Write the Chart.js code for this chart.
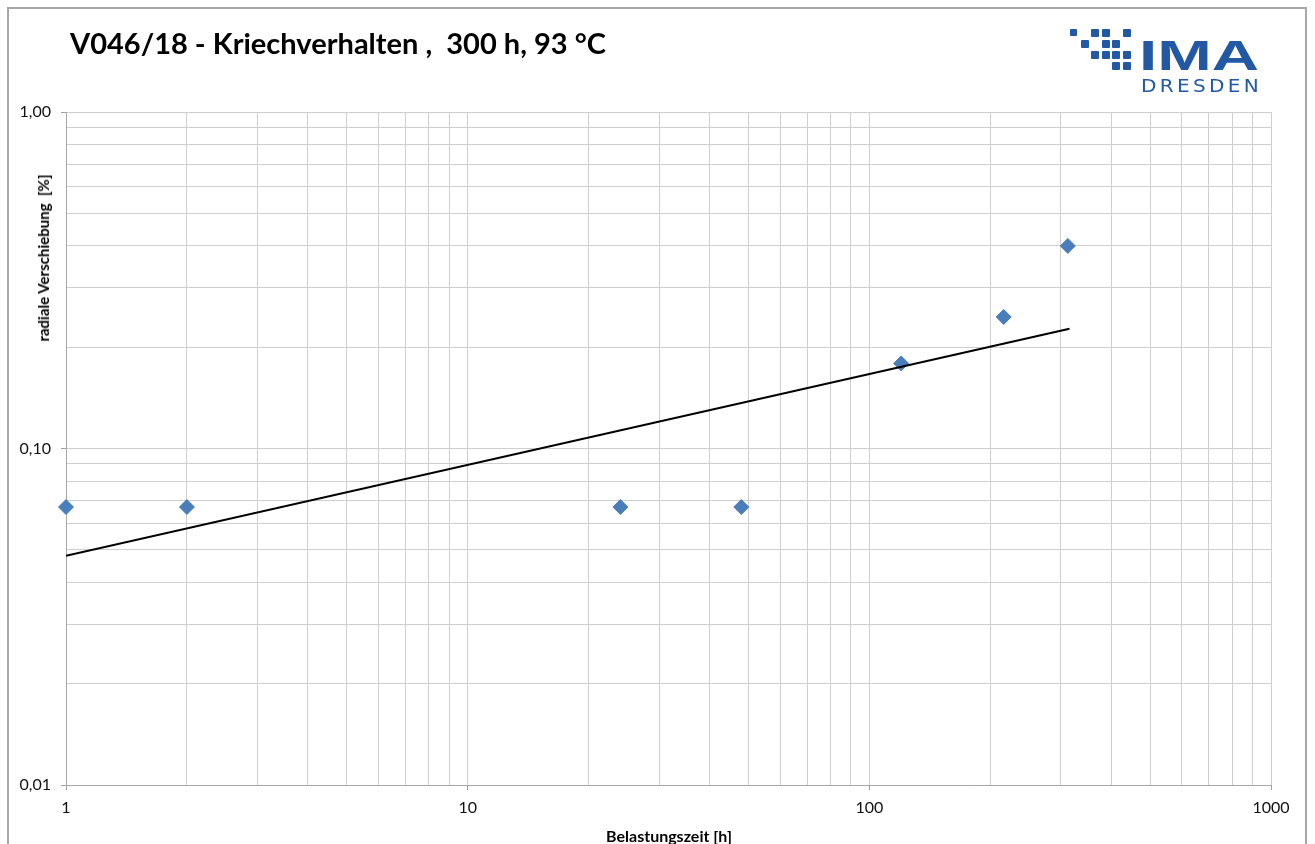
<!DOCTYPE html>
<html>
<head>
<meta charset="utf-8">
<script src="https://cdn.jsdelivr.net/npm/chart.js@4.4.1/dist/chart.umd.min.js"></script>
<style>
    body { margin: 0; background: #fff; }
    #wrap { position: relative; width: 1315px; height: 844px; overflow: hidden; font-family: Lato, "Open Sans", sans-serif; }
    #frame { position: absolute; left: 7px; top: 7px; width: 1300px; height: 900px; border: 2px solid #a8a8a8; box-sizing: border-box; }
    #chart { position: absolute; left: 0; top: 0; }
    .txt { position: absolute; white-space: nowrap; transform-origin: 0 50%; color: #000; }
    #title { left: 70px; top: 24px; font-size: 29px; font-weight: 700; line-height: 38px; }
    #ytitle { left: 43px; top: 258px; font-size: 15px; font-weight: 700; transform: translate(-50%, -50%) rotate(-90deg); transform-origin: 50% 50%; }
    #xtitle { left: 669px; top: 835px; font-size: 16px; font-weight: 700; transform: translate(-50%, -50%); transform-origin: 50% 50%; }
    .sq { position: absolute; width: 8px; height: 8px; background: #2358a5; border-radius: 1px; }
    #ima { left: 1139px; top: 33px; font-family: "Liberation Sans", Arial, sans-serif; font-size: 43px; font-weight: 700; color: #2358a5; line-height: 44px; }
    #dresden { left: 1141px; top: 76px; font-family: "DejaVu Sans", sans-serif; font-size: 18px; color: #2358a5; line-height: 20px; letter-spacing: 3px; }
</style>
</head>
<body>
<div id="wrap">
    <div id="frame"></div>
    <canvas id="chart" width="1315" height="844"></canvas>
    <div class="txt" id="title">V046/18 - Kriechverhalten ,&nbsp; 300 h, 93 °C</div>
    <div class="txt" id="ytitle">radiale Verschiebung&nbsp; [%]</div>
    <div class="txt" id="xtitle">Belastungszeit [h]</div>
    <div id="logo"></div>
    <div class="txt" id="ima">IMA</div>
    <div class="txt" id="dresden">DRESDEN</div>
</div>
<script>
const belastungszeit = [1, 2, 24, 48, 120, 216, 312];
const verschiebung = [0.067, 0.067, 0.067, 0.067, 0.179, 0.246, 0.40];

// Trendlinie (Potenz), Endpunkte
const trendZeit = [1, 315];
const trendWert = [0.048, 0.227];

// Achsenteilung
const xTicks = [1, 2, 3, 4, 5, 6, 7, 8, 9, 10, 20, 30, 40, 50, 60, 70, 80, 90,
    100, 200, 300, 400, 500, 600, 700, 800, 900, 1000];
const xLabels = { 1: "1", 10: "10", 100: "100", 1000: "1000" };
const yTicks = [0.01, 0.02, 0.03, 0.04, 0.05, 0.06, 0.07, 0.08, 0.09,
    0.1, 0.2, 0.3, 0.4, 0.5, 0.6, 0.7, 0.8, 0.9, 1];
const yLabels = { 0.01: "0,01", 0.1: "0,10", 1: "1,00" };

// Logo-Quadrate (Spalte, Zeile)
const logoCells = [[0, 0], [2, 0], [3, 0], [5, 0], [1, 1], [3, 1], [4, 1],
    [2, 2], [3, 2], [4, 2], [5, 2], [4, 3], [5, 3]];

const logo = document.getElementById("logo");
logoCells.forEach(([c, r]) => {
    const d = document.createElement("div");
    d.className = "sq";
    d.style.left = (1070 + c * 10.6) + "px";
    d.style.top = (29 + r * 11) + "px";
    if (c === 0) { d.style.width = "7px"; d.style.height = "7px"; }
    logo.appendChild(d);
});

function fitWidth(id, w) {
    const el = document.getElementById(id);
    const cur = el.getBoundingClientRect().width;
    el.style.transform = "scaleX(" + (w / cur) + ")";
}
fitWidth("ima", 120);
fitWidth("dresden", 121);

const ctx = document.getElementById("chart").getContext("2d");
const tickFont = { family: "Lato, 'Open Sans', sans-serif", size: 16 };

new Chart(ctx, {
    type: "scatter",
    data: {
        datasets: [
            {
                data: trendZeit.map((x, i) => ({ x: x, y: trendWert[i] })),
                showLine: true,
                borderColor: "#000",
                borderWidth: 2,
                pointRadius: 0,
                order: 0,
            },
            {
                data: belastungszeit.map((x, i) => ({ x: x, y: verschiebung[i] })),
                pointStyle: "rectRot",
                pointRadius: 7.5,
                backgroundColor: "#4a7ebb",
                borderColor: "#4a7ebb",
                borderWidth: 1,
                clip: false,
                order: 1,
            },
        ],
    },
    options: {
        responsive: false,
        animation: false,
        layout: { padding: { top: 112, right: 44, left: 0, bottom: 0 } },
        plugins: { legend: { display: false }, tooltip: { enabled: false } },
        scales: {
            x: {
                type: "logarithmic",
                min: 1,
                max: 1000,
                afterBuildTicks: (s) => { s.ticks = xTicks.map((v) => ({ value: v })); },
                afterFit: (s) => { s.height = 59; },
                ticks: {
                    autoSkip: false,
                    maxRotation: 0,
                    padding: 8,
                    color: "#111",
                    font: tickFont,
                    callback: (v) => xLabels[v] || "",
                },
                grid: {
                    color: "#cfcfcf",
                    lineWidth: 1,
                    tickLength: 5,
                    tickColor: (c) => (c.tick && xLabels[c.tick.value] ? "#a0a0a0" : "rgba(0,0,0,0)"),
                },
                border: { color: "#a8a8a8", width: 1 },
            },
            y: {
                type: "logarithmic",
                min: 0.01,
                max: 1,
                afterBuildTicks: (s) => { s.ticks = yTicks.map((v) => ({ value: v })); },
                afterFit: (s) => { s.width = 66; },
                ticks: {
                    autoSkip: false,
                    padding: 10,
                    color: "#111",
                    font: tickFont,
                    callback: (v) => yLabels[v] || "",
                },
                grid: {
                    color: "#cfcfcf",
                    lineWidth: 1,
                    tickLength: 5,
                    tickColor: (c) => (c.tick && yLabels[c.tick.value] ? "#a0a0a0" : "rgba(0,0,0,0)"),
                },
                border: { color: "#a8a8a8", width: 1 },
            },
        },
    },
});

fitWidth("title", 536);
</script>
</body>
</html>
